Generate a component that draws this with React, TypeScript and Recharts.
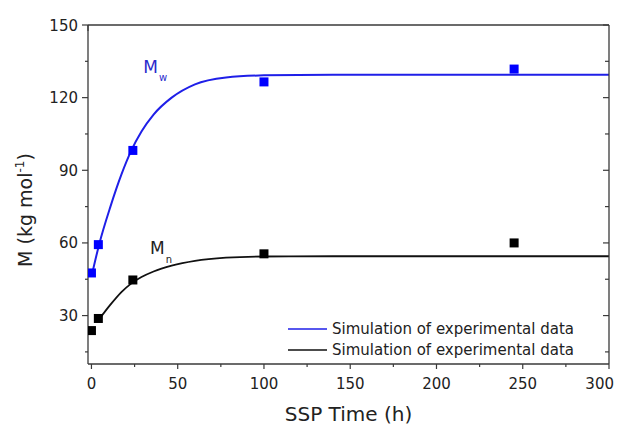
import React from 'react';
import { ComposedChart, Line, Scatter, XAxis, YAxis, ReferenceDot, Legend } from 'recharts';

// smooth simulation curves
const fitTime = [0, 4.5, 11, 17.5, 23, 29, 36, 46.5, 60, 78, 100, 140, 200, 300];
const mwFit = [46, 59.5, 75, 88.5, 98, 106, 113, 120, 125.5, 128.3, 129.2, 129.5, 129.5, 129.5];
const mnFit = [null, 28.5, 34.5, 39.8, 43.2, 45.9, 48.2, 50.6, 52.6, 53.9, 54.4, 54.5, 54.5, 54.5];

// experimental points
const expTime = [0, 4, 24, 100, 245];
const mwExp = [47.6, 59.3, 98.2, 126.5, 131.8];
const mnExp = [23.8, 28.8, 44.7, 55.5, 60];

const xTicks = [0, 25, 50, 75, 100, 125, 150, 175, 200, 225, 250, 275, 300];
const yTicks = [15, 30, 45, 60, 75, 90, 105, 120, 135, 150];

const seriesName = 'Simulation of experimental data';

const fitData = fitTime.map((t, i) => ({ x: t, mw: mwFit[i], mn: mnFit[i] }));
const mwPoints = expTime.map((t, i) => ({ x: t, y: mwExp[i] }));
const mnPoints = expTime.map((t, i) => ({ x: t, y: mnExp[i] }));

const AXIS = '#3a3a3a';
const FONT = '"DejaVu Sans", sans-serif';
const BLUE = '#1f1fe8';

function BottomTick({ x, y, payload }: any) {
  const major = payload.value % 50 === 0;
  // last label is pulled in a little so it is not cut at the page edge
  const last = payload.value === xTicks[xTicks.length - 1];
  return (
    <g>
      <line x1={x} x2={x} y1={y} y2={y + (major ? 5 : 3)} stroke={AXIS} strokeWidth={1.2} />
      {major && (
        <text
          x={last ? x + 5 : x}
          y={y + 25}
          textAnchor={last ? 'end' : 'middle'}
          fontSize={15}
          fontFamily={FONT}
          fill="#222"
        >
          {payload.value}
        </text>
      )}
    </g>
  );
}

function LeftTick({ x, y, payload }: any) {
  const major = payload.value % 30 === 0;
  return (
    <g>
      <line x1={x - (major ? 6 : 3)} x2={x} y1={y} y2={y} stroke={AXIS} strokeWidth={1.2} />
      {major && (
        <text x={x - 10} y={y + 5.5} textAnchor="end" fontSize={15} fontFamily={FONT} fill="#222">
          {payload.value}
        </text>
      )}
    </g>
  );
}

function TopTick({ x, y, payload }: any) {
  const major = payload.value % 50 === 0;
  return <line x1={x} x2={x} y1={y} y2={y + (major ? 6 : 4)} stroke={AXIS} strokeWidth={1.2} />;
}

function RightTick({ x, y, payload }: any) {
  const major = payload.value % 30 === 0;
  return <line x1={x - (major ? 6 : 4)} x2={x} y1={y} y2={y} stroke={AXIS} strokeWidth={1.2} />;
}

const annotation = (sub: string, color: string, dy: number) => (props: any) => {
  const { x, y } = props.viewBox;
  return (
    <text x={x} y={y} fill={color} fontFamily={FONT} fontSize={17}>
      M
      <tspan fontSize={10} dx={1} dy={dy}>
        {sub}
      </tspan>
    </text>
  );
};

function XTitle(props: any) {
  const { x, y, width } = props.viewBox;
  return (
    <text x={x + width / 2} y={y + 57} textAnchor="middle" fontSize={20} fontFamily={FONT} fill="#222">
      SSP Time (h)
    </text>
  );
}

function YTitle(props: any) {
  const { x, y, height } = props.viewBox;
  const cx = x + 4;
  const cy = y + height / 2 + 15.5;
  return (
    <text
      x={cx}
      y={cy}
      textAnchor="middle"
      fontSize={19}
      fontFamily={FONT}
      fill="#222"
      transform={`rotate(-90, ${cx}, ${cy})`}
    >
      M (kg mol
      <tspan fontSize={12} dy={-8}>
        -1
      </tspan>
      <tspan dy={8}>)</tspan>
    </text>
  );
}

function LegendBox({ payload }: any) {
  const items = (payload || []).filter((p: any) => p.type !== 'none' && (p.dataKey === 'mw' || p.dataKey === 'mn'));
  return (
    <div style={{ fontFamily: FONT, fontSize: 15, color: '#222' }}>
      {items.map((p: any, i: number) => (
        <div key={i} style={{ display: 'flex', alignItems: 'center', height: 21, whiteSpace: 'nowrap' }}>
          <svg width={39} height={4} style={{ marginRight: 5 }}>
            <line x1={0} x2={39} y1={2} y2={2} stroke={p.color} strokeWidth={1.6} />
          </svg>
          <span>{p.value}</span>
        </div>
      ))}
    </div>
  );
}

const square = (color: string) => (props: any) =>
  <rect x={props.cx - 4.5} y={props.cy - 4.5} width={9} height={9} fill={color} />;

export default function App() {
  return (
    <div style={{ width: 616, height: 421 }}>
      <style>{'html { overflow: hidden; } .recharts-wrapper, .recharts-surface { overflow: visible !important; }'}</style>
      <ComposedChart
        width={616}
        height={421}
        data={fitData}
        margin={{ top: 16, right: 14, bottom: 5, left: 20 }}
      >
        <XAxis
          dataKey="x"
          type="number"
          domain={[-2, 300]}
          allowDataOverflow
          ticks={xTicks}
          interval={0}
          tickSize={0}
          tickMargin={0}
          tickLine={false}
          tick={<BottomTick />}
          height={60}
          axisLine={{ stroke: AXIS, strokeWidth: 1.3 }}
          label={<XTitle />}
        />
        <XAxis
          xAxisId="top"
          orientation="top"
          type="number"
          domain={[-2, 300]}
          allowDataOverflow
          ticks={xTicks}
          interval={0}
          tickSize={0}
          tickMargin={0}
          tickLine={false}
          tick={<TopTick />}
          height={1}
          axisLine={{ stroke: AXIS, strokeWidth: 1.3 }}
        />
        <YAxis
          type="number"
          domain={[10, 150]}
          allowDataOverflow
          ticks={yTicks}
          interval={0}
          tickSize={0}
          tickMargin={0}
          tickLine={false}
          tick={<LeftTick />}
          width={60}
          axisLine={{ stroke: AXIS, strokeWidth: 1.3 }}
          label={<YTitle />}
        />
        <YAxis
          yAxisId="right"
          orientation="right"
          type="number"
          domain={[10, 150]}
          allowDataOverflow
          ticks={yTicks}
          interval={0}
          tickSize={0}
          tickMargin={0}
          tickLine={false}
          tick={<RightTick />}
          width={1}
          axisLine={{ stroke: AXIS, strokeWidth: 1.3 }}
        />
        <Legend
          layout="vertical"
          align="center"
          verticalAlign="middle"
          wrapperStyle={{ left: 280, top: 310, width: 300 }}
          content={<LegendBox />}
        />
        <Line
          dataKey="mw"
          name={seriesName}
          type="monotone"
          stroke={BLUE}
          strokeWidth={2}
          dot={false}
          activeDot={false}
          isAnimationActive={false}
        />
        <Line
          dataKey="mn"
          name={seriesName}
          type="monotone"
          stroke="#111"
          strokeWidth={1.8}
          dot={false}
          activeDot={false}
          isAnimationActive={false}
        />
        <Scatter data={mwPoints} dataKey="y" fill="#0000ff" shape={square('#0000ff')} legendType="none" isAnimationActive={false} />
        <Scatter data={mnPoints} dataKey="y" fill="#000" shape={square('#000')} legendType="none" isAnimationActive={false} />
        <ReferenceDot x={30} y={130} r={0} stroke="none" fill="none" label={annotation('w', '#2a2acc', 8)} />
        <ReferenceDot x={34} y={55.5} r={0} stroke="none" fill="none" label={annotation('n', '#222', 9)} />
      </ComposedChart>
    </div>
  );
}
